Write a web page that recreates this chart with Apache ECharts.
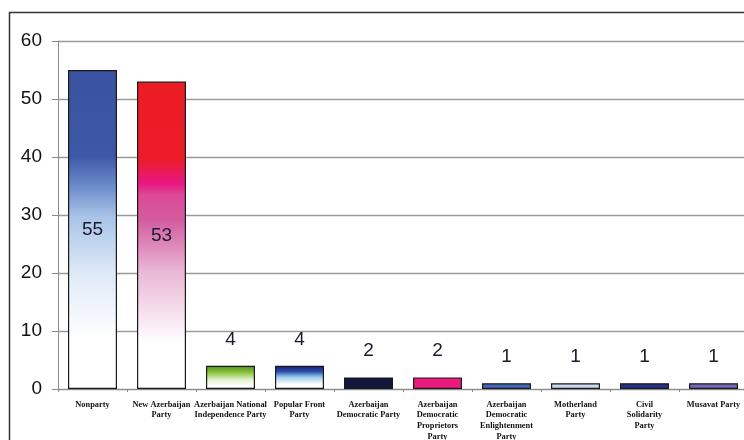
<!DOCTYPE html>
<html lang="en">

<head>
    <meta charset="UTF-8">
    <title>Seats by party</title>
    <script src="https://cdn.jsdelivr.net/npm/echarts@6/dist/echarts.min.js"></script>
    <style>
        body {
            margin: 0;
            background: #fff;
        }

        #root {
            width: 744px;
            height: 440px;
        }
    </style>
</head>

<body>

    <div id="root"></div>
    <script>

        // data
        var parties = [
            'Nonparty',
            'New Azerbaijan\nParty',
            'Azerbaijan National\nIndependence Party',
            'Popular Front\nParty',
            'Azerbaijan\nDemocratic Party',
            'Azerbaijan\nDemocratic\nProprietors\nParty',
            'Azerbaijan\nDemocratic\nEnlightenment\nParty',
            'Motherland\nParty',
            'Civil\nSolidarity\nParty',
            'Musavat Party'
        ];
        var seats = [55, 53, 4, 4, 2, 2, 1, 1, 1, 1];
        var yTicks = [0, 10, 20, 30, 40, 50, 60];

        // fill of each bar, top to bottom
        function grad(stops) {
            return new echarts.graphic.LinearGradient(0, 0, 0, 1, stops.map(function (s) {
                return { offset: s[0], color: s[1] };
            }));
        }

        var fills = [
            grad([[0, '#3a53a0'], [0.27, '#3d58a6'], [0.37, '#6f8fcc'], [0.46, '#a9c4e8'], [0.64, '#dfeaf7'], [0.84, '#ffffff'], [1, '#ffffff']]),
            grad([[0, '#ec1c24'], [0.25, '#ec1c2a'], [0.33, '#e91780'], [0.37, '#dc4a98'], [0.45, '#d35ca0'], [0.62, '#eab8d6'], [0.85, '#ffffff'], [1, '#ffffff']]),
            grad([[0, '#4f8f1e'], [0.3, '#8cc63f'], [0.6, '#e4f2cc'], [0.85, '#ffffff'], [1, '#ffffff']]),
            grad([[0, '#141c6e'], [0.25, '#2f4fb0'], [0.5, '#9fd0ee'], [0.8, '#ffffff'], [1, '#ffffff']]),
            '#10173a',
            '#ec1a7d',
            '#4467bd',
            '#c9d9f0',
            '#27328c',
            '#7866b8'
        ];

        var chart = echarts.init(document.getElementById('root'), null, { renderer: 'canvas' });

        chart.setOption({
            animation: false,
            backgroundColor: '#ffffff',
            graphic: [{
                type: 'rect',
                left: 7,
                top: 10,
                shape: { width: 800, height: 500 },
                style: { fill: 'none', stroke: '#2f3532', lineWidth: 1.5 },
                z: 0
            }],
            grid: {
                left: 58,
                top: 41,
                width: 690,
                bottom: 51,
                containLabel: false,
                outerBoundsMode: 'none'
            },
            xAxis: {
                type: 'category',
                data: parties,
                axisLine: { lineStyle: { color: '#8a8a8a', width: 1 } },
                axisTick: { show: true, length: 3, lineStyle: { color: '#8a8a8a' } },
                axisLabel: {
                    interval: 0,
                    margin: 10,
                    fontFamily: 'Liberation Serif',
                    fontWeight: 'bold',
                    fontSize: 8.4,
                    lineHeight: 10.8,
                    color: '#111'
                }
            },
            yAxis: {
                type: 'value',
                min: yTicks[0],
                max: yTicks[yTicks.length - 1],
                interval: 10,
                axisLine: { show: true, lineStyle: { color: '#8a8a8a', width: 1 } },
                axisTick: { show: true, length: 6, lineStyle: { color: '#8a8a8a' } },
                splitLine: { lineStyle: { color: '#9a9a9a', width: 1.3 } },
                axisLabel: {
                    margin: 16,
                    fontFamily: 'Liberation Sans',
                    fontSize: 19,
                    color: '#111'
                }
            },
            series: [{
                type: 'bar',
                barCategoryGap: '29%',
                data: seats.map(function (v, i) {
                    var big = v > 10;
                    return {
                        value: v,
                        itemStyle: { color: fills[i] },
                        label: big ? { position: 'inside' } : { position: 'top', distance: 17 }
                    };
                }),
                itemStyle: { borderColor: '#1a1a1a', borderWidth: 1.2 },
                label: {
                    show: true,
                    fontFamily: 'Liberation Sans',
                    fontSize: 19,
                    color: '#1a1a2a'
                }
            }]
        });

    </script>

</body>

</html>
